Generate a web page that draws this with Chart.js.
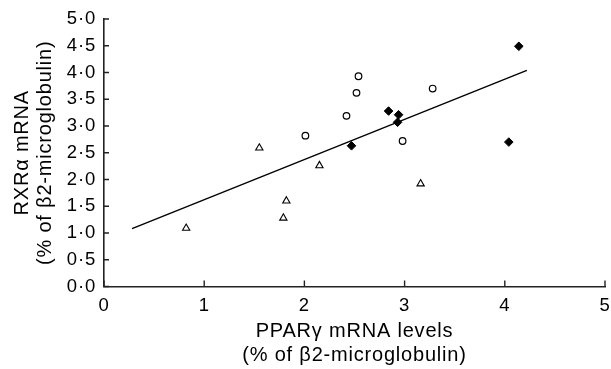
<!DOCTYPE html>
<html>
<head>
<meta charset="utf-8">
<script src="https://cdn.jsdelivr.net/npm/chart.js@4/dist/chart.umd.min.js"></script>
<style>
  html, body { margin: 0; padding: 0; background: #fff; }
  canvas { display: block; }
</style>
</head>
<body>
<canvas id="c" width="611" height="369"></canvas>
<script>
// ---- data ----
const triX  = [0.82, 1.55, 1.79, 1.82, 2.15, 3.16];
const triY  = [1.09, 2.59, 1.28, 1.60, 2.26, 1.92];
const circX = [2.01, 2.42, 2.52, 2.54, 2.98, 3.28];
const circY = [2.82, 3.19, 3.62, 3.93, 2.72, 3.70];
const diaX  = [2.47, 2.84, 2.93, 2.94, 4.04, 4.14];
const diaY  = [2.63, 3.28, 3.07, 3.21, 2.70, 4.49];
const fitX  = [0.28, 4.22];
const fitY  = [1.08, 4.04];
const xTicks = [0, 1, 2, 3, 4, 5];
const yTicks = [0, 0.5, 1, 1.5, 2, 2.5, 3, 3.5, 4, 4.5, 5];
const xTitle = ['PPAR\u03b3 mRNA levels', '(% of \u03b22-microglobulin)'];
const yTitle = ['RXR\u03b1 mRNA', '(% of \u03b22-microglobulin)'];

const pts = (xs, ys) => xs.map((x, i) => ({x: x, y: ys[i]}));
const FONT = "'Liberation Sans', Arial, Helvetica, sans-serif";
const AXIS = '#222';

const spacing = {
  id: 'spacing',
  beforeUpdate(chart) { chart.ctx.letterSpacing = '0.8px'; },
  beforeDraw(chart) { chart.ctx.letterSpacing = '0.8px'; }
};

const innerTicks = {
  id: 'innerTicks',
  afterDraw(chart) {
    const ctx = chart.ctx;
    const xs = chart.scales.x, ys = chart.scales.y;
    ctx.save();
    ctx.strokeStyle = AXIS;
    ctx.lineWidth = 1.4;
    ctx.beginPath();
    xs.ticks.forEach(t => {
      const px = xs.getPixelForValue(t.value);
      ctx.moveTo(px, xs.top);
      ctx.lineTo(px, xs.top - 6);
    });
    ys.ticks.forEach(t => {
      const py = ys.getPixelForValue(t.value);
      ctx.moveTo(ys.right, py);
      ctx.lineTo(ys.right + 5, py);
    });
    ctx.stroke();
    ctx.restore();
  }
};

new Chart(document.getElementById('c'), {
  type: 'scatter',
  data: {
    datasets: [
      { data: pts(fitX, fitY), showLine: true, borderColor: '#000', borderWidth: 1.4,
        pointRadius: 0, pointHoverRadius: 0, fill: false, order: 4 },
      { data: pts(triX, triY), pointStyle: 'triangle', pointRadius: 4.2,
        backgroundColor: '#fff', borderColor: '#000', borderWidth: 1.1, order: 1 },
      { data: pts(circX, circY), pointStyle: 'circle', pointRadius: 3.3,
        backgroundColor: '#fff', borderColor: '#000', borderWidth: 1.2, order: 2 },
      { data: pts(diaX, diaY), pointStyle: 'rectRot', pointRadius: 4.3,
        backgroundColor: '#000', borderColor: '#000', borderWidth: 1, order: 3 }
    ]
  },
  options: {
    responsive: false,
    devicePixelRatio: 1,
    animation: false,
    events: [],
    layout: { padding: { top: 19, right: 6, left: 0, bottom: 0 } },
    plugins: { legend: { display: false }, tooltip: { enabled: false } },
    scales: {
      x: {
        type: 'linear', min: 0, max: 5,
        afterBuildTicks(s) { s.ticks = xTicks.map(v => ({value: v})); },
        afterFit(s) { s.height = 82.5; s.paddingLeft = 0; s.paddingRight = 0; },
        grid: { display: false, drawTicks: false },
        border: { display: true, color: AXIS, width: 1.6 },
        ticks: { color: '#000', padding: 8, font: { family: FONT, size: 18.5 },
                 callback: v => String(v), maxRotation: 0 },
        title: { display: true, text: xTitle, color: '#000',
                 font: { family: FONT, size: 20, lineHeight: 1.22 },
                 padding: { top: 0, bottom: 1 } }
      },
      y: {
        type: 'linear', min: 0, max: 5,
        afterBuildTicks(s) { s.ticks = yTicks.map(v => ({value: v})); },
        afterFit(s) { s.width = 104; s.paddingTop = 0; s.paddingBottom = 0; },
        grid: { display: false, drawTicks: false },
        border: { display: true, color: AXIS, width: 1.6 },
        ticks: { color: '#000', padding: 8, font: { family: FONT, size: 18.5 },
                 callback: v => Number(v).toFixed(1).replace('.', '\u00b7') },
        title: { display: true, text: yTitle, color: '#000',
                 font: { family: FONT, size: 20, lineHeight: 1.18 },
                 padding: { top: 10.5, bottom: 0 } }
      }
    }
  },
  plugins: [spacing, innerTicks]
});
</script>
</body>
</html>
